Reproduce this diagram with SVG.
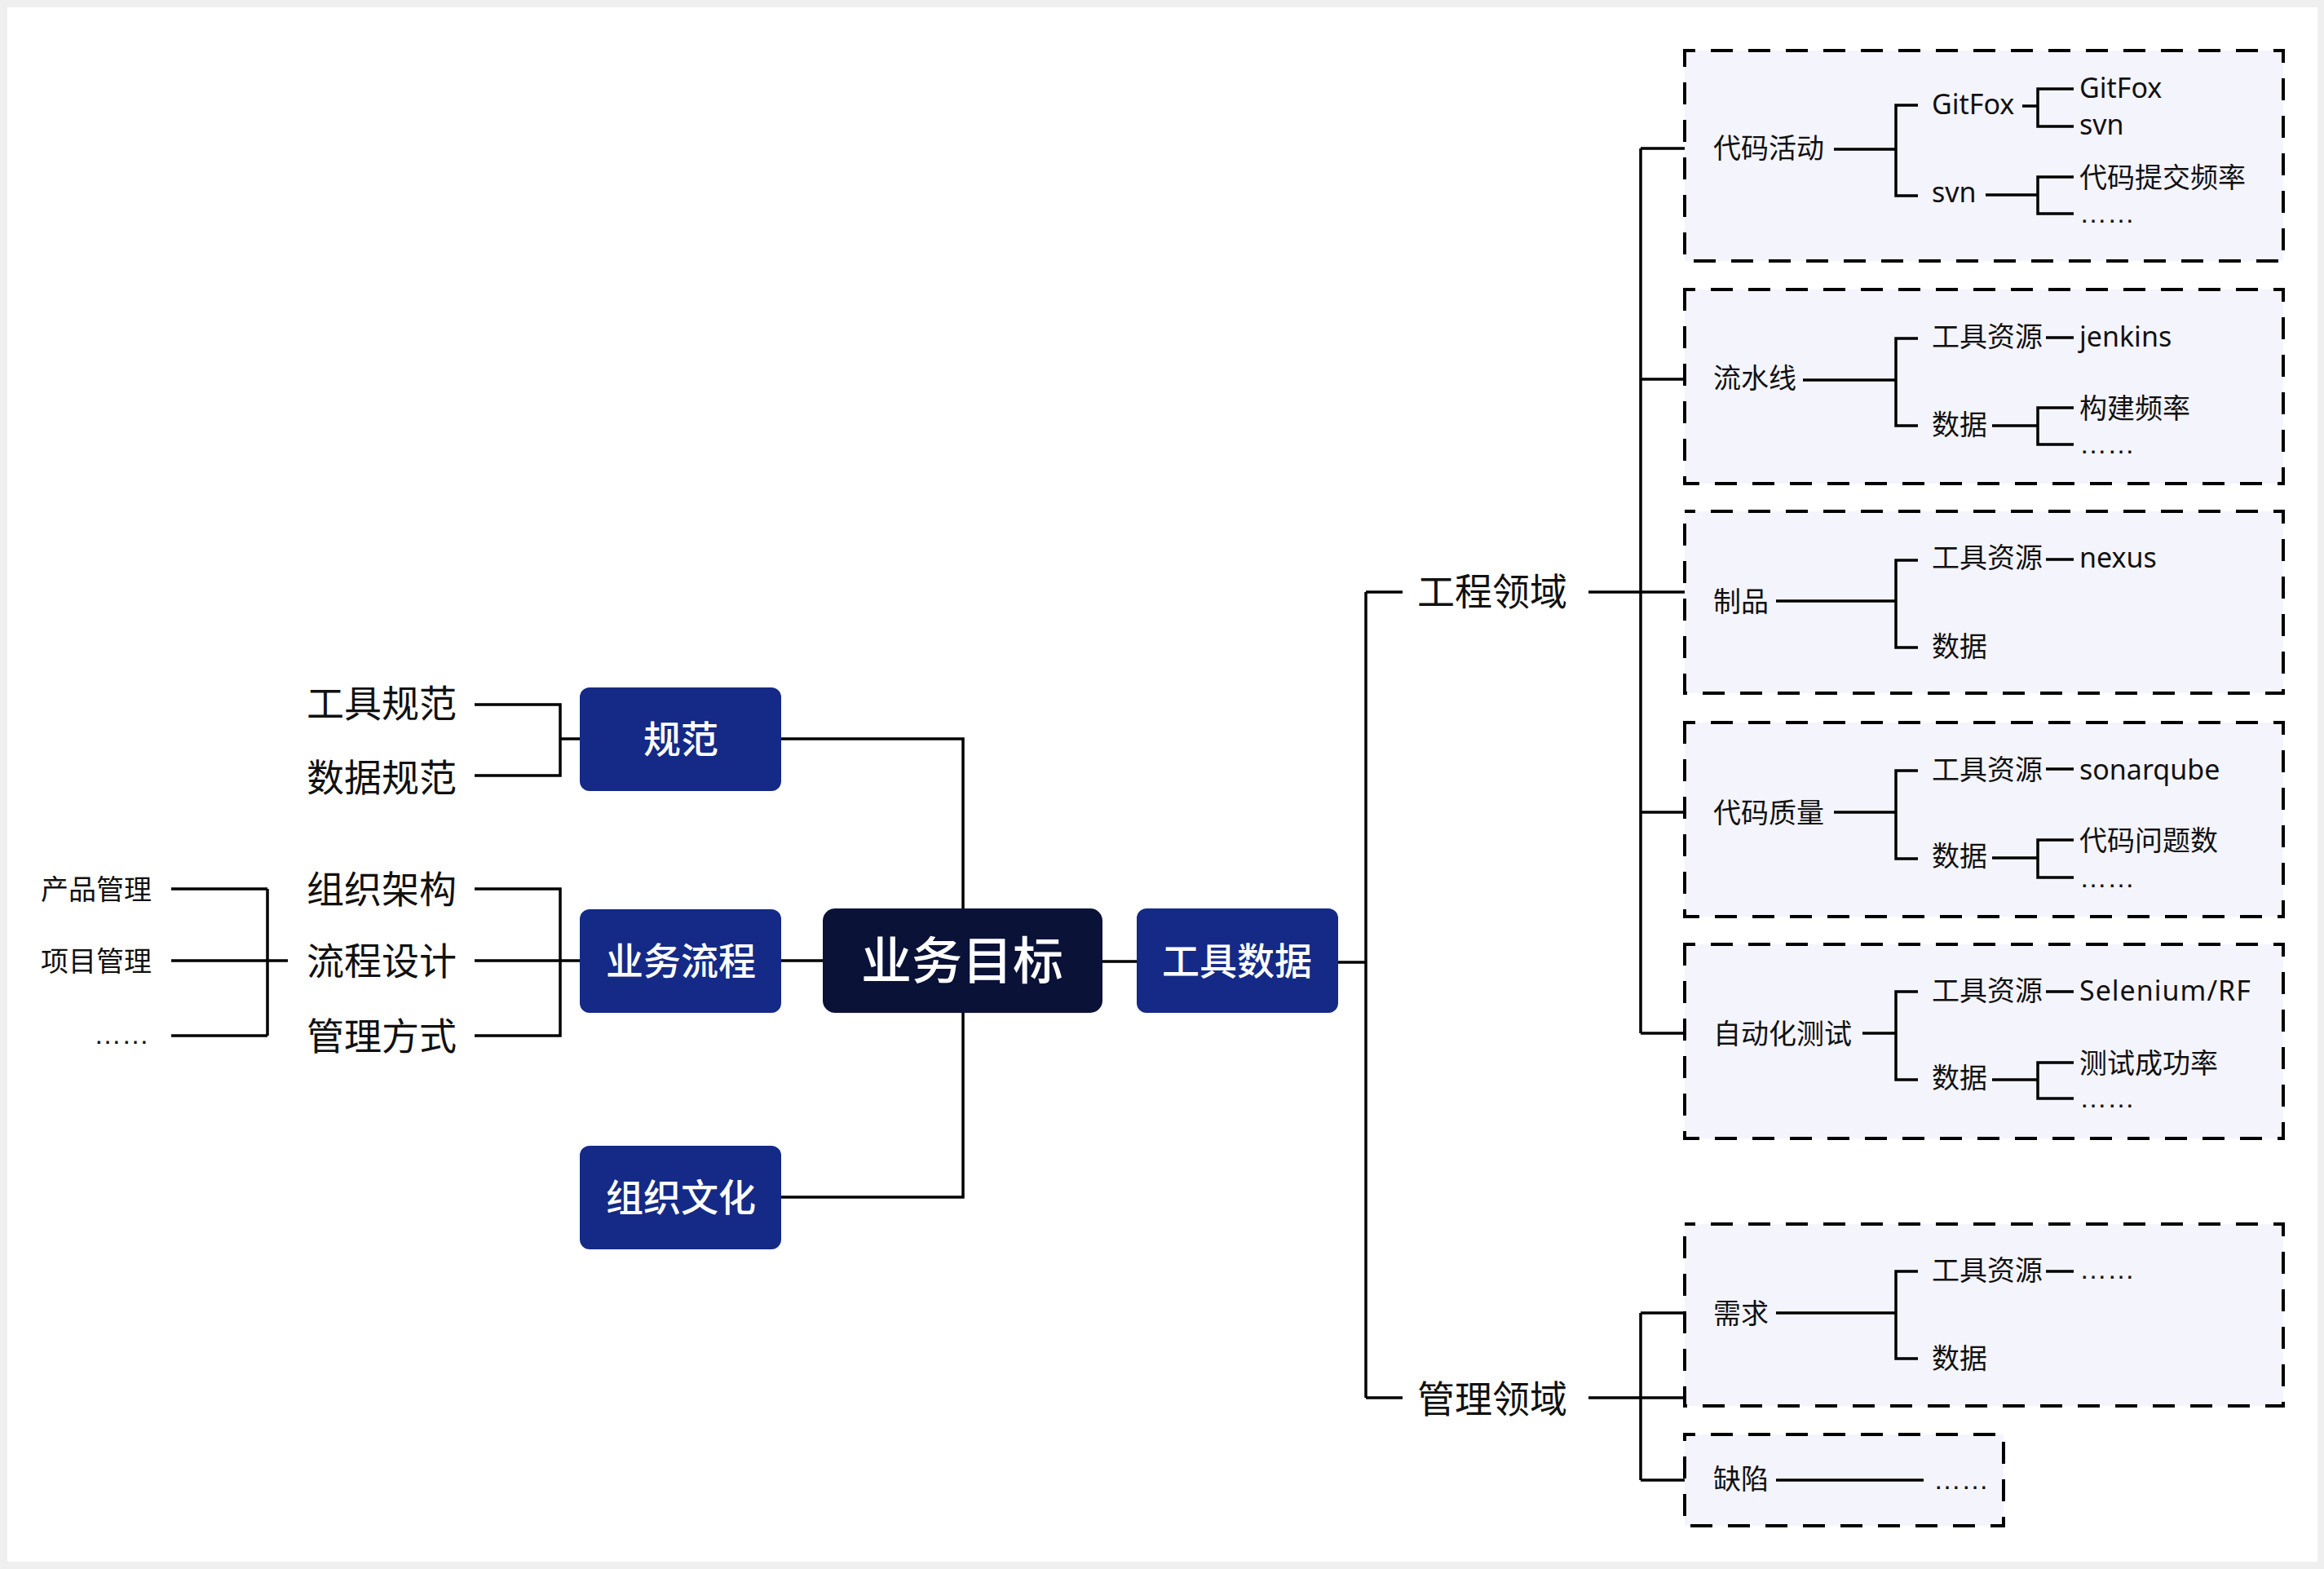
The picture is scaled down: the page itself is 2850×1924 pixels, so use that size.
<svg xmlns="http://www.w3.org/2000/svg" width="2850" height="1924" viewBox="0 0 2850 1924">
<style>
.t{font-family:"Noto Sans","Noto Sans CJK SC",sans-serif;fill:#111}
.s{font-size:34px}
.m{font-size:46px}
.w{fill:#fff;font-weight:500;text-anchor:middle}
.dots{font-family:"Liberation Sans",sans-serif;font-size:34px;fill:#111}
.nb{fill:#142a86}
.box{fill:#f4f4fd;stroke:#000;stroke-width:4;stroke-dasharray:27 19;stroke-dashoffset:14}
.ln{fill:none;stroke:#000;stroke-width:3.5}
</style>
<rect x="0" y="0" width="2850" height="1924" fill="#efefef"/>
<rect x="9" y="9" width="2833" height="1906" fill="#fff"/>

<g id="containers">
<rect id="box-code" class="box" x="2066" y="62" width="734" height="258"/>
<rect id="box-pipeline" class="box" x="2066" y="355" width="734" height="238"/>
<rect id="box-artifact" class="box" x="2066" y="627" width="734" height="223"/>
<rect id="box-quality" class="box" x="2066" y="886" width="734" height="238"/>
<rect id="box-autotest" class="box" x="2066" y="1158" width="734" height="238"/>
<rect id="box-req" class="box" x="2066" y="1501" width="734" height="223"/>
<rect id="box-defect" class="box" x="2066" y="1759" width="391" height="112"/>
</g>

<g id="connectors" class="ln">
<path d="M210 1090H328M210 1178H353M210 1270H328M328 1090V1270"/>
<path d="M582 864H687V951H582M687 906H711"/>
<path d="M582 1090H687V1270H582M582 1178H711"/>
<path d="M958 906H1181V1468H958M958 1178H1009"/>
<path d="M1352 1179H1394"/>
<path d="M1641 1180H1675M1675 726V1714M1675 726H1720M1675 1714H1720"/>
<path d="M1948 726H2066M2012 182V1267M2012 182H2066M2012 465H2066M2012 996H2066M2012 1267H2066"/>
<path d="M1948 1714H2066M2012 1610V1815M2012 1610H2066M2012 1815H2066"/>
<path d="M2249 183H2325M2352 129H2325V240H2352M2480 130H2499M2435 239H2499M2543 109H2499V155H2543M2543 217H2499V262H2543"/>
<path d="M2211 466H2325M2352 415H2325V522H2352M2509 414H2543M2443 522H2499M2543 500H2499V545H2543"/>
<path d="M2178 737H2325M2352 687H2325V794H2352M2509 686H2543"/>
<path d="M2249 996H2325M2352 945H2325V1053H2352M2509 943H2543M2443 1052H2499M2543 1030H2499V1076H2543"/>
<path d="M2284 1267H2325M2352 1216H2325V1324H2352M2509 1216H2543M2443 1324H2499M2543 1303H2499V1347H2543"/>
<path d="M2178 1610H2325M2352 1559H2325V1666H2352M2509 1559H2543"/>
<path d="M2178 1815H2359"/>
</g>

<g id="node-goal"><rect x="1009" y="1114" width="343" height="128" rx="15" fill="#0b1237"/><text class="t w" x="1180" y="1201" font-size="62">业务目标</text></g>
<g id="node-spec"><rect class="nb" x="711" y="843" width="247" height="127" rx="12"/><text class="t m w" x="835" y="923">规范</text></g>
<g id="node-process"><rect class="nb" x="711" y="1115" width="247" height="127" rx="12"/><text class="t m w" x="835" y="1195">业务流程</text></g>
<g id="node-culture"><rect class="nb" x="711" y="1405" width="247" height="127" rx="12"/><text class="t m w" x="835" y="1485">组织文化</text></g>
<g id="node-tooldata"><rect class="nb" x="1394" y="1114" width="247" height="128" rx="12"/><text class="t m w" x="1517" y="1195">工具数据</text></g>

<g id="node-toolspec"><text class="t m" x="376" y="879">工具规范</text></g>
<g id="node-dataspec"><text class="t m" x="376" y="970">数据规范</text></g>
<g id="node-org"><text class="t m" x="376" y="1107">组织架构</text></g>
<g id="node-flow"><text class="t m" x="376" y="1195">流程设计</text></g>
<g id="node-mgmt"><text class="t m" x="376" y="1287">管理方式</text></g>
<g id="node-product"><text class="t s" x="50" y="1103">产品管理</text></g>
<g id="node-project"><text class="t s" x="50" y="1191">项目管理</text></g>
<g id="node-more-left"><text class="dots" x="115" y="1280">……</text></g>
<g id="node-eng"><text class="t m" x="1738" y="742">工程领域</text></g>
<g id="node-mgmtdomain"><text class="t m" x="1738" y="1732">管理领域</text></g>

<g id="node-codeact">
<text class="t s" x="2101" y="194">代码活动</text>
<text class="t s" x="2369" y="140">GitFox</text>
<text class="t s" x="2369" y="248">svn</text>
<text class="t s" x="2550" y="120">GitFox</text>
<text class="t s" x="2550" y="165">svn</text>
<text class="t s" x="2550" y="230">代码提交频率</text>
<text class="dots" x="2550" y="273">……</text>
</g>
<g id="node-pipeline">
<text class="t s" x="2101" y="476">流水线</text>
<text class="t s" x="2369" y="425">工具资源</text>
<text class="t s" x="2550" y="425">jenkins</text>
<text class="t s" x="2369" y="533">数据</text>
<text class="t s" x="2550" y="513">构建频率</text>
<text class="dots" x="2550" y="556">……</text>
</g>
<g id="node-artifact">
<text class="t s" x="2101" y="750">制品</text>
<text class="t s" x="2369" y="696">工具资源</text>
<text class="t s" x="2550" y="696">nexus</text>
<text class="t s" x="2369" y="805">数据</text>
</g>
<g id="node-quality">
<text class="t s" x="2101" y="1009">代码质量</text>
<text class="t s" x="2369" y="956">工具资源</text>
<text class="t s" x="2550" y="956">sonarqube</text>
<text class="t s" x="2369" y="1062">数据</text>
<text class="t s" x="2550" y="1043">代码问题数</text>
<text class="dots" x="2550" y="1088">……</text>
</g>
<g id="node-autotest">
<text class="t s" x="2101" y="1280">自动化测试</text>
<text class="t s" x="2369" y="1227">工具资源</text>
<text class="t s" x="2550" y="1227" letter-spacing="1">Selenium/RF</text>
<text class="t s" x="2369" y="1334">数据</text>
<text class="t s" x="2550" y="1316">测试成功率</text>
<text class="dots" x="2550" y="1358">……</text>
</g>
<g id="node-req">
<text class="t s" x="2101" y="1623">需求</text>
<text class="t s" x="2369" y="1570">工具资源</text>
<text class="dots" x="2550" y="1568">……</text>
<text class="t s" x="2369" y="1678">数据</text>
</g>
<g id="node-defect">
<text class="t s" x="2101" y="1826">缺陷</text>
<text class="dots" x="2371" y="1826">……</text>
</g>
</svg>
